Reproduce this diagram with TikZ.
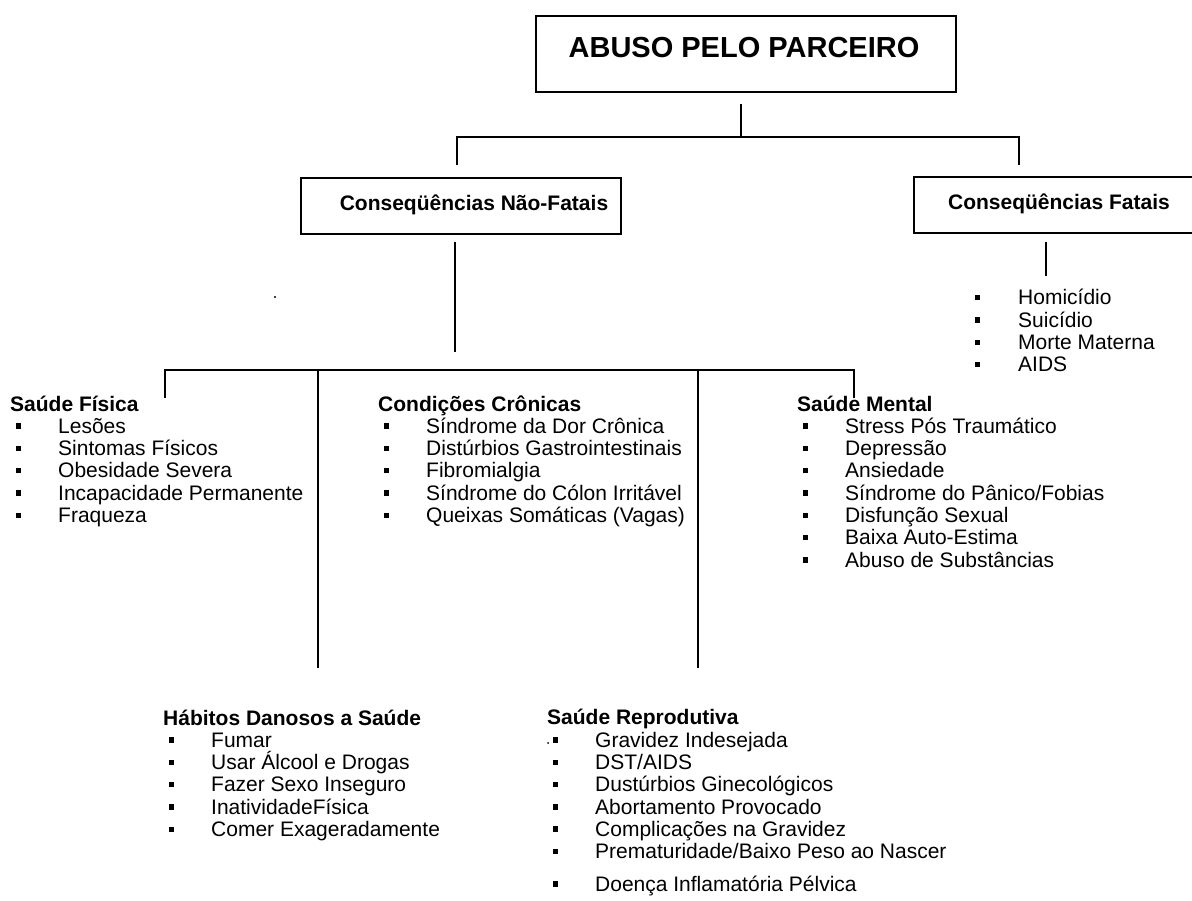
\documentclass[tikz,border=0pt]{standalone}
\usepackage{fontspec}
\setmainfont{Liberation Sans}
\newcommand\myitem[1]{\makebox[48pt][l]{\hspace*{6pt}\rule[4.5pt]{5pt}{5.5pt}}#1}
\newcommand\myfitem[1]{\makebox[43pt][l]{\rule[4.5pt]{5pt}{5.5pt}}#1}
\begin{document}
\begin{tikzpicture}[x=1pt,y=-1pt]
\tikzset{
 box/.style={draw, line width=1.6pt, inner sep=0pt, anchor=north west},
 lst/.style={anchor=base west, inner sep=0pt, align=left, font=\fontsize{21}{22.3}\selectfont},
 ttl/.style={inner sep=0pt, anchor=base, font=\bfseries\fontsize{21}{22.3}\selectfont},
 conn/.style={line width=1.6pt}
}
\useasboundingbox[fill=white] (0,0) rectangle (1192,901);

% boxes
\node[box, minimum width=420pt, minimum height=76pt] (top) at (535,15) {};
\node[inner sep=0pt, anchor=base, font=\bfseries\fontsize{29}{32}\selectfont] (toptxt) at (744,57.5) {ABUSO PELO PARCEIRO};
\node[box, minimum width=320pt, minimum height=56pt] (nf) at (300,177) {};
\node[ttl] (nftxt) at (474,210.5) {Conseqüências Não-Fatais};
\node[box, minimum width=300pt, minimum height=56pt] (fat) at (913,176) {};
\node[ttl] (fattxt) at (1059,210) {Conseqüências Fatais};

% junction coordinates
\coordinate (j1) at (741,137);
\coordinate (busL) at (457,137);
\coordinate (busR) at (1019,137);
\coordinate (nfdrop) at (455,352);
\coordinate (fatdrop) at (1046,276);
\coordinate (b2L) at (165,370);
\coordinate (b2a) at (318,370);
\coordinate (b2b) at (698,370);
\coordinate (b2R) at (854,370);
\coordinate (dL) at (165,398);
\coordinate (dR) at (854,398);
\coordinate (va) at (318,668);
\coordinate (vb) at (698,668);

% lists (anchor = baseline of the LAST line)
\node[lst] (fatl) at (975,371.9) {\myfitem{Homicídio}\\ \myfitem{Suicídio}\\ \myfitem{Morte Materna}\\ \myfitem{AIDS}};

\node[lst] (fis) at (10,522.5) {\textbf{Saúde Física}\\
\myitem{Lesões}\\ \myitem{Sintomas Físicos}\\ \myitem{Obesidade Severa}\\ \myitem{Incapacidade Permanente}\\ \myitem{Fraqueza}};

\node[lst] (cron) at (378,522.5) {\textbf{Condições Crônicas}\\
\myitem{Síndrome da Dor Crônica}\\ \myitem{Distúrbios Gastrointestinais}\\ \myitem{Fibromialgia}\\ \myitem{Síndrome do Cólon Irritável}\\ \myitem{Queixas Somáticas (Vagas)}};

\node[lst] (ment) at (797,567.1) {\textbf{Saúde Mental}\\
\myitem{Stress Pós Traumático}\\ \myitem{Depressão}\\ \myitem{Ansiedade}\\ \myitem{Síndrome do Pânico/Fobias}\\ \myitem{Disfunção Sexual}\\ \myitem{Baixa Auto-Estima}\\ \myitem{Abuso de Substâncias}};

\node[lst] (hab) at (163,836.5) {\textbf{Hábitos Danosos a Saúde}\\
\myitem{Fumar}\\ \myitem{Usar Álcool e Drogas}\\ \myitem{Fazer Sexo Inseguro}\\ \myitem{InatividadeFísica}\\ \myitem{Comer Exageradamente}};

\node[lst] (rep) at (547,891) {\textbf{Saúde Reprodutiva}\\
\myitem{Gravidez Indesejada}\\ \myitem{DST/AIDS}\\ \myitem{Dustúrbios Ginecológicos}\\ \myitem{Abortamento Provocado}\\ \myitem{Complicações na Gravidez}\\ \myitem{Prematuridade/Baixo Peso ao Nascer}\\[10pt] \myitem{Doença Inflamatória Pélvica}};

% connectors
\draw[conn, shorten <=11pt] (j1 |- top.south) -- (j1);
\draw[conn] (busL |- 0,165) -- (busL) -- (busR) -- (busR |- 0,165);
\draw[conn, shorten <=7pt] (nfdrop |- nf.south) -- (nfdrop);
\draw[conn, shorten <=8pt] (fatdrop |- fat.south) -- (fatdrop);
\draw[conn] (dL) -- (b2L) -- (b2R) -- (dR);
\draw[conn] (b2a) -- (va);
\draw[conn] (b2b) -- (vb);

% scan specks
\fill (275,297) circle (1.2pt);
\fill (548,743) circle (1pt);
\end{tikzpicture}
\end{document}
